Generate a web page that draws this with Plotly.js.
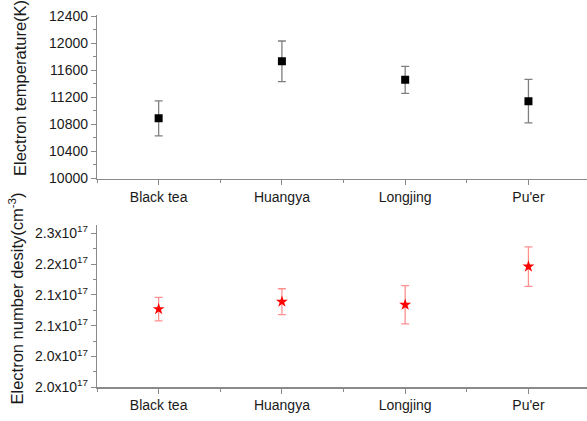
<!DOCTYPE html>
<html>
<head>
<meta charset="utf-8">
<script src="https://cdn.plot.ly/plotly-3.0.1.min.js"></script>
<style>html,body{margin:0;padding:0;background:#fff;}#chart{width:587px;height:421px;}</style>
</head>
<body>
<div id="chart"></div>
<script>
// Categories (tea samples)
const categories = ["Black tea", "Huangya", "Longjing", "Pu'er"];

// Electron temperature (K) and its error
const tempValues = [10890, 11735, 11460, 11145];
const tempErrors = [260, 300, 200, 323];

// Electron number density (in units of 1e17 cm^-3) and its error
const densValues = [2.127, 2.139, 2.134, 2.196];
const densErrors = [0.019, 0.021, 0.031, 0.032];

// Tick values / labels for the density axis (as printed in the original)
const densTickVals = [2.00, 2.05, 2.10, 2.15, 2.20, 2.25];
const densTickText = ["2.0x10<sup>17</sup>", "2.0x10<sup>17</sup>", "2.1x10<sup>17</sup>",
                      "2.1x10<sup>17</sup>", "2.2x10<sup>17</sup>", "2.3x10<sup>17</sup>"];

// Axis titles
const tempTitle = "Electron temperature(K)";
const densTitle = "Electron number desity(cm<sup>-3</sup>)";

const xIdx = categories.map((c, i) => i);

const FONT = "Liberation Sans, Arial, sans-serif";
const AXC = "#8a8a8a";
const TXT = "#1a1a1a";
const W = 587, H = 421, ML = 97;
const plotW = W - ML;

const traces = [
  {
    x: xIdx, y: tempValues, type: "scatter", mode: "markers",
    xaxis: "x", yaxis: "y",
    marker: {symbol: "square", size: 8, color: "#000"},
    error_y: {type: "data", array: tempErrors, visible: true, color: "#7f7f7f", thickness: 1.3, width: 4},
    hoverinfo: "skip", showlegend: false
  },
  {
    x: xIdx, y: densValues, type: "scatter", mode: "markers",
    xaxis: "x2", yaxis: "y2",
    marker: {symbol: "star", size: 9, color: "#ff0000"},
    error_y: {type: "data", array: densErrors, visible: true, color: "rgba(255,70,70,0.6)", thickness: 1.3, width: 4},
    hoverinfo: "skip", showlegend: false
  }
];

function xAxis(anchor) {
  return {
    anchor: anchor, domain: [0, 1], range: [-0.5, 3.475],
    tickmode: "array", tickvals: xIdx, ticktext: categories,
    ticks: "outside", ticklen: 5, tickwidth: 1, tickcolor: AXC,
    minor: {tickmode: "array", tickvals: [-0.5, 0.5, 1.5, 2.5, 3.5], ticks: "outside", ticklen: 3, tickcolor: AXC, tickwidth: 1, showgrid: false},
    showline: true, linecolor: AXC, linewidth: 1.2,
    showgrid: false, zeroline: false,
    tickfont: {family: FONT, size: 14, color: TXT}
  };
}

const layout = {
  width: W, height: H,
  margin: {l: ML, r: 0, t: 0, b: 0},
  paper_bgcolor: "#fff", plot_bgcolor: "#fff",
  showlegend: false,
  xaxis: xAxis("y"),
  xaxis2: xAxis("y2"),
  yaxis: {
    anchor: "x", domain: [0.576, 0.9644], range: [10000, 12420],
    tickmode: "linear", tick0: 10000, dtick: 400, tickformat: "d",
    ticks: "outside", ticklen: 5, tickwidth: 1, tickcolor: AXC,
    minor: {tick0: 10000, dtick: 200, ticks: "outside", ticklen: 3, tickcolor: AXC, tickwidth: 1, showgrid: false},
    showline: true, linecolor: AXC, linewidth: 1.2,
    showgrid: false, zeroline: false,
    tickfont: {family: FONT, size: 14, color: TXT}
  },
  yaxis2: {
    anchor: "x2", domain: [0.080, 0.4656], range: [2.0, 2.2635],
    tickmode: "array", tickvals: densTickVals, ticktext: densTickText,
    ticks: "outside", ticklen: 5, tickwidth: 1, tickcolor: AXC,
    minor: {tick0: 2.0, dtick: 0.025, ticks: "outside", ticklen: 3, tickcolor: AXC, tickwidth: 1, showgrid: false},
    showline: true, linecolor: AXC, linewidth: 1.2,
    showgrid: false, zeroline: false,
    tickfont: {family: FONT, size: 14, color: TXT}
  },
  annotations: [
    {text: tempTitle, textangle: -90, xref: "paper", yref: "paper",
     x: (20 - ML) / plotW, y: 1 - 88 / H, xanchor: "center", yanchor: "middle",
     showarrow: false, font: {family: FONT, size: 16.5, color: TXT}},
    {text: densTitle, textangle: -90, xref: "paper", yref: "paper",
     x: (16 - ML) / plotW, y: 1 - 298.5 / H, xanchor: "center", yanchor: "middle",
     showarrow: false, font: {family: FONT, size: 16.5, color: TXT}}
  ]
};

Plotly.newPlot("chart", traces, layout, {displayModeBar: false, staticPlot: true});
</script>
</body>
</html>
